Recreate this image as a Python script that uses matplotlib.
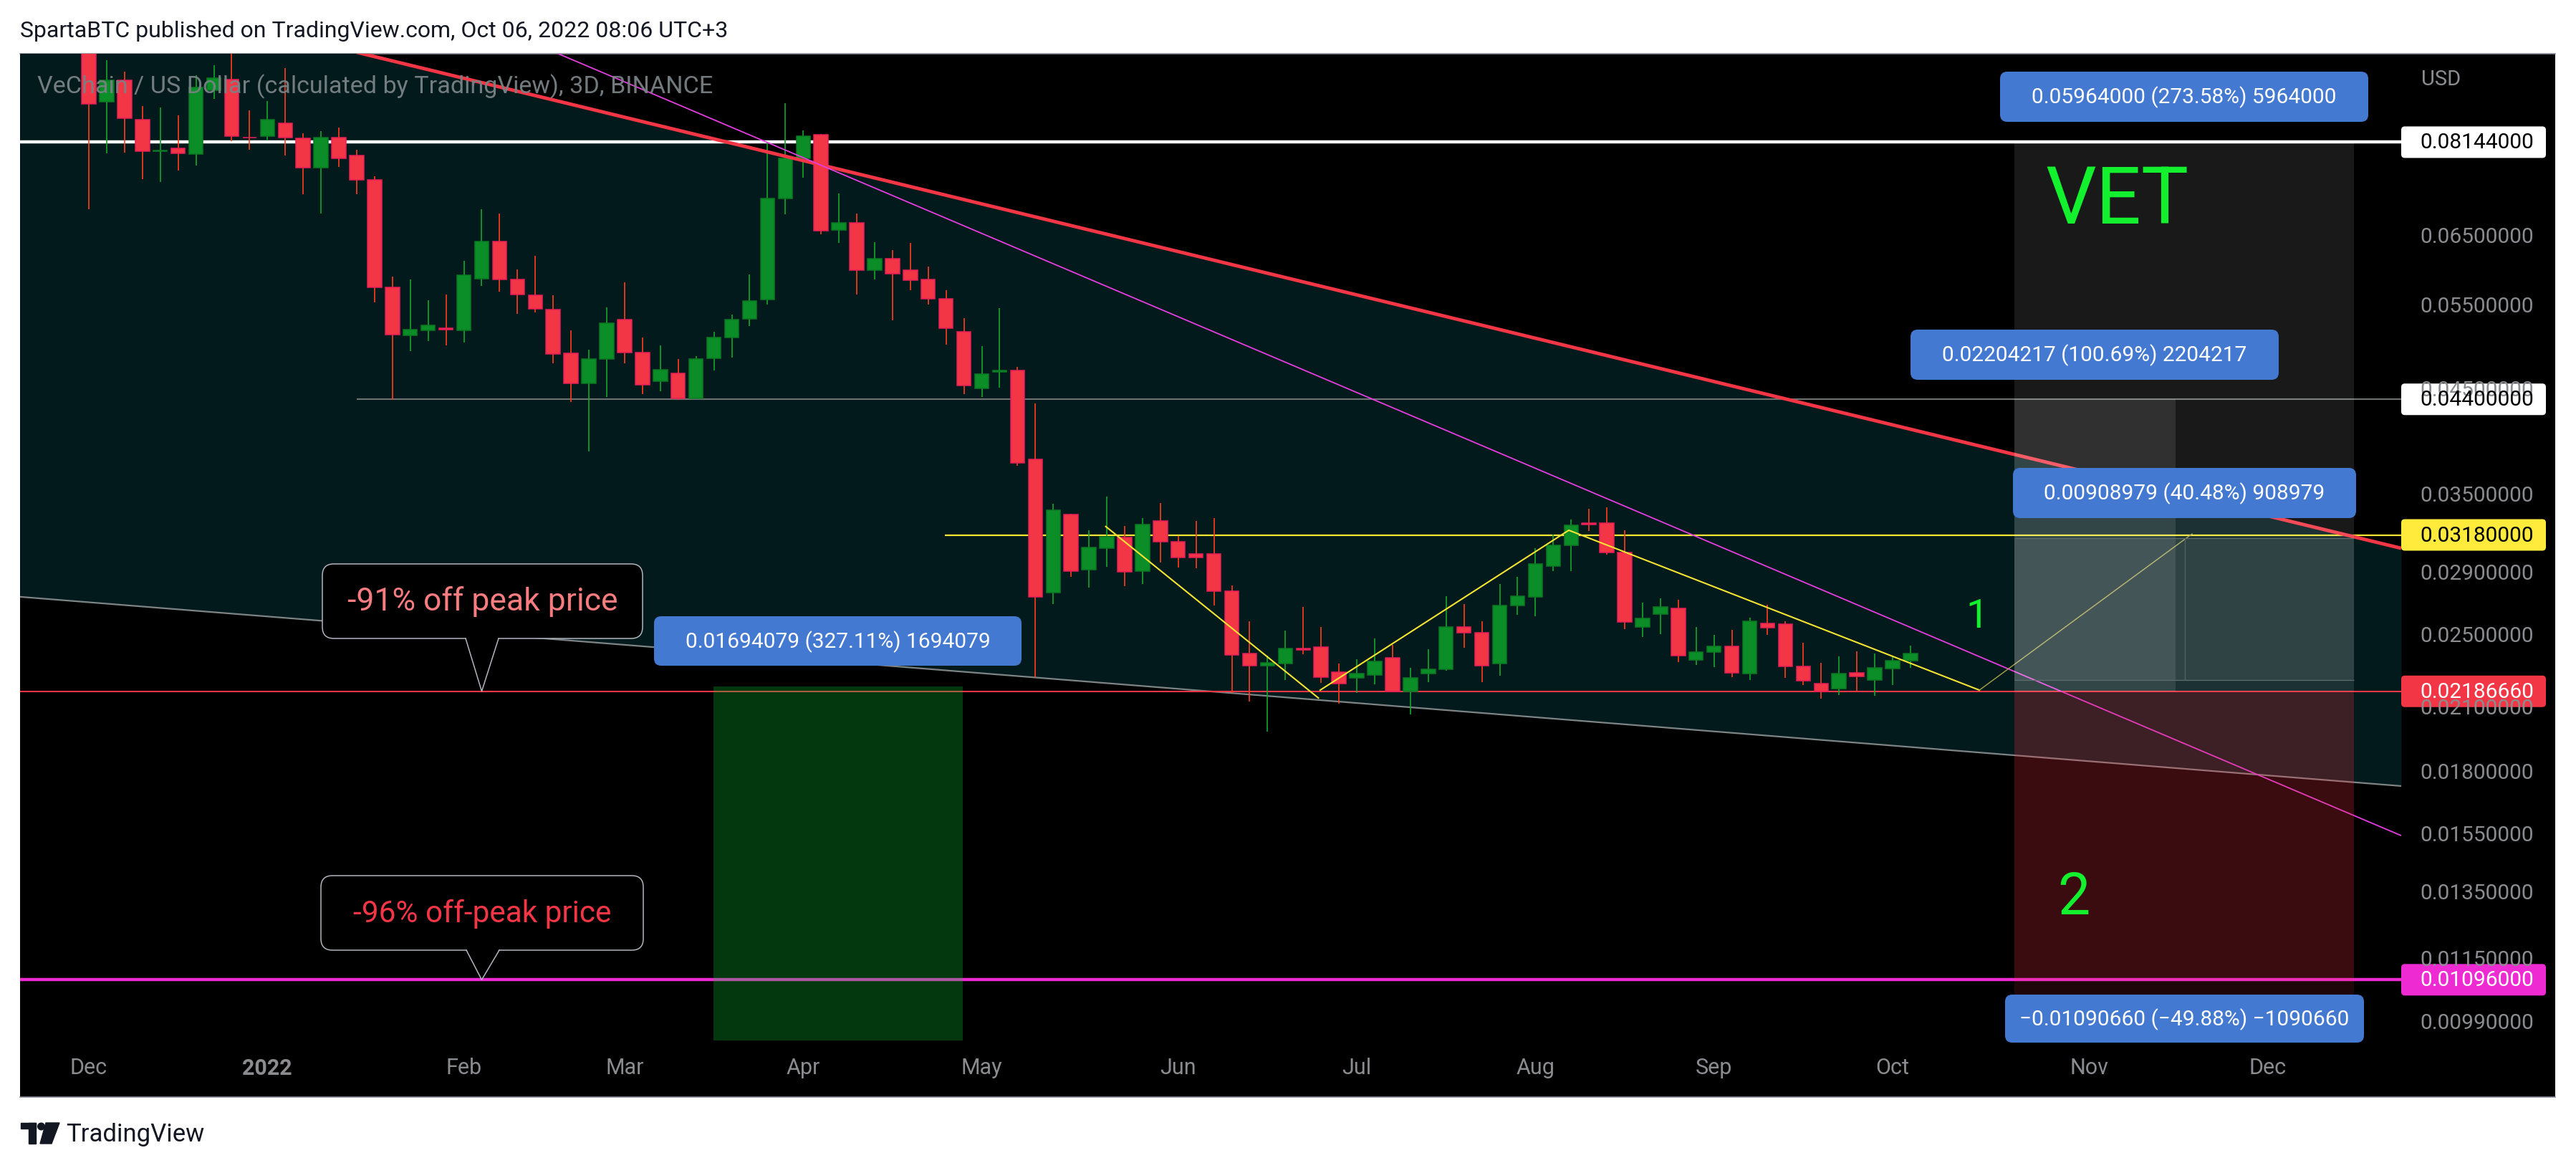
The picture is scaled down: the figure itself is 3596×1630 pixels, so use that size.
import numpy as np
import matplotlib
matplotlib.use("Agg")
import matplotlib.pyplot as plt
from matplotlib.patches import Rectangle, FancyBboxPatch, Polygon, Circle
from matplotlib.transforms import blended_transform_factory

plt.rcParams['font.family'] = ['Roboto', 'DejaVu Sans']

# ---------------- data (VET/USD, 3D candles, Dec 2021 - Oct 2022) ----------------
bar_index = np.arange(103)
opens = np.array([
    0.1085, 0.08967, 0.09441, 0.08591, 0.07975, 0.08021, 0.07920, 0.09226, 0.09457, 0.08240,
    0.08268, 0.08526, 0.08215, 0.07662, 0.08239, 0.07885, 0.07445, 0.05756, 0.05124, 0.05191,
    0.05215, 0.05191, 0.05870, 0.06424, 0.05860, 0.05648, 0.05457, 0.04911, 0.04574, 0.04844,
    0.05323, 0.04924, 0.04593, 0.04685, 0.04412, 0.04855, 0.05104, 0.05332, 0.05585, 0.07113,
    0.07830, 0.08287, 0.06601, 0.06710, 0.05998, 0.06159, 0.05993, 0.05864, 0.05596, 0.05168,
    0.04515, 0.04700, 0.04713, 0.03810, 0.02772, 0.03337, 0.02928, 0.03080, 0.03161, 0.02914,
    0.03291, 0.03128, 0.03039, 0.03039, 0.02780, 0.02393, 0.02324, 0.02336, 0.02423, 0.02433,
    0.02288, 0.02259, 0.02273, 0.02369, 0.02184, 0.02282, 0.02304, 0.02553, 0.02517, 0.02336,
    0.02684, 0.02741, 0.02953, 0.03100, 0.03272, 0.03269, 0.03047, 0.02553, 0.02630, 0.02666,
    0.02359, 0.02402, 0.02435, 0.02281, 0.02575, 0.02570, 0.02320, 0.02227, 0.02199, 0.02287,
    0.02248, 0.02308, 0.02352])
highs = np.array([
    0.1120, 0.09911, 0.09642, 0.08880, 0.08850, 0.08680, 0.09560, 0.09793, 0.1025, 0.08789,
    0.08988, 0.09726, 0.08320, 0.08358, 0.08435, 0.07998, 0.07502, 0.05900, 0.05864, 0.05578,
    0.05652, 0.06130, 0.06932, 0.06865, 0.06005, 0.06201, 0.05642, 0.05187, 0.04953, 0.05483,
    0.05823, 0.05099, 0.05004, 0.04844, 0.04877, 0.05172, 0.05389, 0.05934, 0.08136, 0.08935,
    0.08377, 0.08300, 0.07203, 0.06865, 0.06409, 0.06290, 0.06399, 0.06046, 0.05713, 0.05344,
    0.04996, 0.05474, 0.04752, 0.04360, 0.03425, 0.03345, 0.03215, 0.03486, 0.03249, 0.03311,
    0.03435, 0.03174, 0.03291, 0.03309, 0.02819, 0.02586, 0.02382, 0.02529, 0.02675, 0.02553,
    0.02339, 0.02362, 0.02481, 0.02444, 0.02314, 0.02418, 0.02747, 0.02694, 0.02586, 0.02827,
    0.02876, 0.03082, 0.03185, 0.03299, 0.03386, 0.03397, 0.03215, 0.02703, 0.02731, 0.02722,
    0.02553, 0.02504, 0.02532, 0.02608, 0.02689, 0.02584, 0.02457, 0.02342, 0.02378, 0.02406,
    0.02394, 0.02380, 0.02440])
lows = np.array([
    0.06939, 0.07929, 0.07943, 0.07454, 0.07403, 0.07609, 0.07705, 0.09034, 0.08168, 0.08001,
    0.08182, 0.07889, 0.07187, 0.06861, 0.07671, 0.07194, 0.05553, 0.04395, 0.04941, 0.05061,
    0.05009, 0.05041, 0.05773, 0.05697, 0.05399, 0.05422, 0.04799, 0.04370, 0.03886, 0.04425,
    0.04799, 0.04458, 0.04488, 0.04395, 0.04405, 0.04713, 0.04863, 0.05246, 0.05521, 0.06853,
    0.07476, 0.06529, 0.06399, 0.05658, 0.05866, 0.05320, 0.05713, 0.05521, 0.05018, 0.04455,
    0.04425, 0.04527, 0.03755, 0.02261, 0.02696, 0.02874, 0.02805, 0.02946, 0.02811, 0.02827,
    0.02978, 0.02941, 0.02937, 0.02684, 0.02179, 0.02133, 0.01986, 0.02246, 0.02391, 0.02231,
    0.02124, 0.02179, 0.02222, 0.02182, 0.02068, 0.02235, 0.02296, 0.02429, 0.02237, 0.02271,
    0.02626, 0.02619, 0.02917, 0.02917, 0.03212, 0.03033, 0.02536, 0.02489, 0.02508, 0.02347,
    0.02329, 0.02319, 0.02262, 0.02245, 0.02505, 0.02260, 0.02219, 0.02149, 0.02167, 0.02186,
    0.02163, 0.02219, 0.02312])
closes = np.array([
    0.08930, 0.09448, 0.08629, 0.07974, 0.07990, 0.07925, 0.09290, 0.09495, 0.08263, 0.08228,
    0.08591, 0.08231, 0.07662, 0.08239, 0.07839, 0.07445, 0.05756, 0.05134, 0.05202, 0.05255,
    0.05195, 0.05920, 0.06424, 0.05860, 0.05652, 0.05461, 0.04905, 0.04574, 0.04844, 0.05277,
    0.04924, 0.04554, 0.04726, 0.04412, 0.04844, 0.05099, 0.05328, 0.05571, 0.07113, 0.07830,
    0.08259, 0.06591, 0.06710, 0.05998, 0.06159, 0.05947, 0.05855, 0.05596, 0.05214, 0.04546,
    0.04672, 0.04715, 0.03780, 0.02742, 0.03373, 0.02918, 0.03086, 0.03166, 0.02910, 0.03259,
    0.03128, 0.03011, 0.03011, 0.02777, 0.02384, 0.02324, 0.02342, 0.02423, 0.02414, 0.02264,
    0.02228, 0.02280, 0.02350, 0.02184, 0.02258, 0.02304, 0.02553, 0.02514, 0.02327, 0.02684,
    0.02747, 0.02967, 0.03100, 0.03253, 0.03262, 0.03047, 0.02580, 0.02605, 0.02675, 0.02381,
    0.02402, 0.02435, 0.02287, 0.02584, 0.02548, 0.02320, 0.02244, 0.02186, 0.02283, 0.02267,
    0.02312, 0.02352, 0.02393])

month_ticks = [0, 10, 21, 30, 40, 50, 61, 71, 81, 91, 101, 112, 122]
month_labels = ['Dec', '2022', 'Feb', 'Mar', 'Apr', 'May', 'Jun', 'Jul', 'Aug', 'Sep', 'Oct', 'Nov', 'Dec']

price_ticks = [0.065, 0.055, 0.045, 0.035, 0.029, 0.025, 0.021, 0.018, 0.0155, 0.0135, 0.0115, 0.0099]

level_white = 0.08144
level_gray = 0.044
level_yellow = 0.0318
level_entry = 0.0218666
level_pink = 0.01096

# trendline anchors (bar position, price)
red_trend = [(39.15, 0.07862), (129.48, 0.03080)]
magenta_trend = [(39.15, 0.07970), (129.48, 0.01548)]
lower_trend = [(-3.85, 0.02742), (129.48, 0.01743)]
gray_level_start = 15.0
yellow_level_start = 47.93

zig1_x, zig1_p = [56.94, 68.85], [0.03245, 0.02152]
zig2_x, zig2_p = [68.95, 82.87, 105.86], [0.02193, 0.03216, 0.02193]
proj_x, proj_p = [105.86, 117.77], [0.02193, 0.03188]

tool_x = (107.82, 116.85, 126.84)
stop_a, stop_b = 0.01058, 0.01096
range_box = (0.022455, 0.031545)
range_mid_x = 117.37
green_box_x = (34.98, 48.94)
green_box_p = (0.005179, 0.02212)

# ---------------- layout ----------------
W, H, DPI = 3596, 1631, 100
PL, PR, PT, PB = 28, 3352, 76, 1453      # price pane in pixels
AR, AB = 3567, 1532                       # outer chart edges
XL, XR = -3.851, 129.48
YB, YT = 0.009478, 0.10065

def ypx(p):
    return PT + (np.log(YT) - np.log(p)) / (np.log(YT) - np.log(YB)) * (PB - PT)

def xpx(i):
    return PL + (i - XL) / (XR - XL) * (PR - PL)

def trend(x, anchors):
    (x0, p0), (x1, p1) = anchors
    return np.exp(np.log(p0) + (np.log(p1) - np.log(p0)) * (np.asarray(x) - x0) / (x1 - x0))

fig = plt.figure(figsize=(W / DPI, H / DPI), dpi=DPI, facecolor='white')

bg = fig.add_axes([0, 0, 1, 1])
bg.set_xlim(0, W); bg.set_ylim(H, 0); bg.axis('off'); bg.set_zorder(0)
bg.add_patch(Rectangle((PL, PT), AR - PL, AB - PT, facecolor='black', edgecolor='none'))
bg.plot([PL, AR], [PT, PT], color='#8a8d96', lw=1.2)
bg.plot([PL, AR], [AB, AB], color='#8a8d96', lw=1.2)
bg.text(PL, 44, 'SpartaBTC published on TradingView.com, Oct 06, 2022 08:06 UTC+3',
        fontsize=23, color='#131722', ha='left', va='center')

# TradingView logo
bg.add_patch(Rectangle((29, 1568), 21, 8, color='#131722'))
bg.add_patch(Rectangle((40, 1568), 10, 29, color='#131722'))
bg.add_patch(Circle((57.5, 1573), 4.8, color='#131722'))
bg.add_patch(Polygon([(64, 1568), (83, 1568), (72, 1597), (56, 1597)], closed=True, color='#131722'))
bg.text(92, 1584, 'TradingView', fontsize=25, color='#131722', ha='left', va='center')

# ---------------- main price pane ----------------
ax = fig.add_axes([PL / W, 1 - PB / H, (PR - PL) / W, (PB - PT) / H])
ax.set_zorder(2)
ax.set_yscale('log')
ax.set_xlim(XL, XR)
ax.set_ylim(YB, YT)
ax.axis('off')

xs = np.linspace(XL, XR, 600)
ax.fill_between(xs, trend(xs, lower_trend), trend(xs, red_trend), color='#021a1c', lw=0, zorder=0.5)
ax.plot(xs, trend(xs, lower_trend), color='#7e8485', lw=1.6, zorder=1)

ax.axhline(level_white, color='white', lw=3.2, zorder=2)
ax.hlines(level_gray, gray_level_start, XR, color='#6e7273', lw=1.5, zorder=2)
ax.hlines(level_yellow, yellow_level_start, XR, color='#f7e733', lw=1.6, zorder=2)
ax.axhline(level_entry, color='#f23645', lw=1.5, zorder=2)
ax.axhline(level_pink, color='#ee2bd2', lw=3.2, zorder=2)

# candles
up = closes >= opens
body_lo = np.minimum(opens, closes)
body_h = np.maximum(np.abs(closes - opens), 0.00004)
wick_col = np.where(up, '#14a62d', '#ff3d1f')
ax.vlines(bar_index, lows, highs, colors=wick_col, lw=1.2, zorder=3.5)
ax.bar(bar_index[up], body_h[up], bottom=body_lo[up], width=0.78,
       color='#0b8d28', edgecolor='#0b7a24', linewidth=1.1, zorder=4)
ax.bar(bar_index[~up], body_h[~up], bottom=body_lo[~up], width=0.78,
       color='#f23645', edgecolor='#e91e5a', linewidth=1.1, zorder=4)

# trendlines
ax.plot(xs, trend(xs, red_trend), color='#f23645', lw=3.5, zorder=4.5, solid_capstyle='butt')
ax.plot(xs, trend(xs, magenta_trend), color='#e43ee0', lw=1.3, zorder=4.5)
ax.plot(zig1_x, zig1_p, color='#f5e433', lw=1.5, zorder=4.6)
ax.plot(zig2_x, zig2_p, color='#f5e433', lw=1.5, zorder=4.6)
ax.plot(proj_x, proj_p, color='#a9a448', lw=1.0, zorder=4.6)

# position / range tools
x0, xm, x1 = tool_x
ax.add_patch(Rectangle((x0, level_entry), x1 - x0, level_white - level_entry,
                       facecolor='white', alpha=0.10, lw=0, zorder=5))
ax.add_patch(Rectangle((x0, level_entry), xm - x0, level_gray - level_entry,
                       facecolor='white', alpha=0.10, lw=0, zorder=5))
ax.add_patch(Rectangle((x0, stop_a), x1 - x0, level_entry - stop_a,
                       facecolor='#f23645', alpha=0.13, lw=0, zorder=5))
ax.add_patch(Rectangle((x0, stop_b), x1 - x0, level_entry - stop_b,
                       facecolor='#f23645', alpha=0.13, lw=0, zorder=5))
ax.add_patch(Rectangle((x0, range_box[0]), x1 - x0, range_box[1] - range_box[0],
                       facecolor='white', alpha=0.09, edgecolor='none', zorder=5))
ax.hlines(list(range_box), x0, x1, color='#5f6d6d', lw=0.9, zorder=5.1)
ax.vlines(range_mid_x, range_box[0], range_box[1], color='#56625f', lw=0.9, zorder=5.1)
ax.add_patch(Rectangle((green_box_x[0], green_box_p[0]), green_box_x[1] - green_box_x[0],
                       green_box_p[1] - green_box_p[0], facecolor=(0.05, 0.73, 0.19),
                       alpha=0.30, lw=0, zorder=5))

# ---------------- overlay (labels, callouts) ----------------
ov = fig.add_axes([0, 0, 1, 1])
ov.set_xlim(0, W); ov.set_ylim(H, 0); ov.axis('off'); ov.set_zorder(3)

ov.text(52, 121, 'VeChain / US Dollar (calculated by TradingView), 3D, BINANCE',
        fontsize=24.6, color='#7a8286', ha='left', va='center', alpha=0.95)

# price axis
ov.text(3380, 111, 'USD', fontsize=21, color='#8a8c90', ha='left', va='center')
for v in price_ticks:
    t = ov.text(3458, ypx(v), f'{v:.8f}', fontsize=21.5, color='#8a8c90', ha='center', va='center')
    if v == 0.045:
        # only the sliver above the 0.044 price box is visible
        clip = Rectangle((PR, PT), 240, ypx(level_gray) - 22 - PT, transform=ov.transData)
        t.set_clip_path(clip)

for v, fc, tc in [(level_white, 'white', 'black'), (level_gray, 'white', 'black'),
                  (level_yellow, '#ffeb3b', 'black'), (level_entry, '#f23645', 'white'),
                  (level_pink, '#ee2bd2', 'white')]:
    yc = ypx(v)
    ov.add_patch(FancyBboxPatch((PR, yc - 22), 202, 44, boxstyle='round,pad=0,rounding_size=5',
                                facecolor=fc, edgecolor='none'))
    ov.text(3458, yc, f'{v:.8f}', fontsize=21.5, color=tc, ha='center', va='center')

# time axis
for t, lab in zip(month_ticks, month_labels):
    ov.text(xpx(t), 1491, lab, fontsize=22, color='#8a8c90', ha='center', va='center',
            fontweight='bold' if lab == '2022' else 'normal')

# blue measurement labels
blue_labels = [('0.05964000 (273.58%) 5964000', 2792, 101, 3306, 171),
               ('0.02204217 (100.69%) 2204217', 2667, 461, 3181, 531),
               ('0.00908979 (40.48%) 908979', 2810, 654, 3289, 724),
               ('0.01694079 (327.11%) 1694079', 913, 861, 1426, 930),
               ('\u22120.01090660 (\u221249.88%) \u22121090660', 2799, 1389, 3300, 1456)]
for txt, bx0, by0, bx1, by1 in blue_labels:
    ov.add_patch(FancyBboxPatch((bx0, by0), bx1 - bx0, by1 - by0,
                                boxstyle='round,pad=0,rounding_size=10',
                                facecolor='#4379d0', edgecolor='none'))
    ov.text((bx0 + bx1) / 2, (by0 + by1) / 2, txt, fontsize=21.5, color='white',
            ha='center', va='center')

# callouts
def callout(bx0, by0, bx1, by1, tipx, tipy, basel, baser, txt, col, fs):
    ov.add_patch(FancyBboxPatch((bx0, by0), bx1 - bx0, by1 - by0,
                                boxstyle='round,pad=0,rounding_size=16',
                                facecolor='black', edgecolor='#b2b5be', lw=1.1))
    ov.add_patch(Polygon([(basel, by1 - 2), (tipx, tipy), (baser, by1 - 2)], closed=True,
                         facecolor='black', edgecolor='none'))
    ov.plot([basel, tipx, baser], [by1, tipy, by1], color='#b2b5be', lw=1.1)
    ov.text((bx0 + bx1) / 2, (by0 + by1) / 2, txt, fontsize=fs, color=col,
            ha='center', va='center')

callout(450, 788, 897, 892, xpx(22), ypx(level_entry), 650, 696, '-91% off peak price', '#f77c80', 32)
callout(448, 1223, 898, 1327, xpx(22), ypx(level_pink), 651, 697, '-96% off-peak price', '#f23645', 30.5)

# big annotations
ov.text(2955, 282, 'VET', fontsize=80, color='#12f02e', ha='center', va='center')
ov.text(2760, 861, '1', fontsize=40, color='#12f02e', ha='center', va='center')
ov.text(2895, 1254, '2', fontsize=58, color='#12f02e', ha='center', va='center')

fig.savefig('out.png', dpi=DPI, facecolor='white')
